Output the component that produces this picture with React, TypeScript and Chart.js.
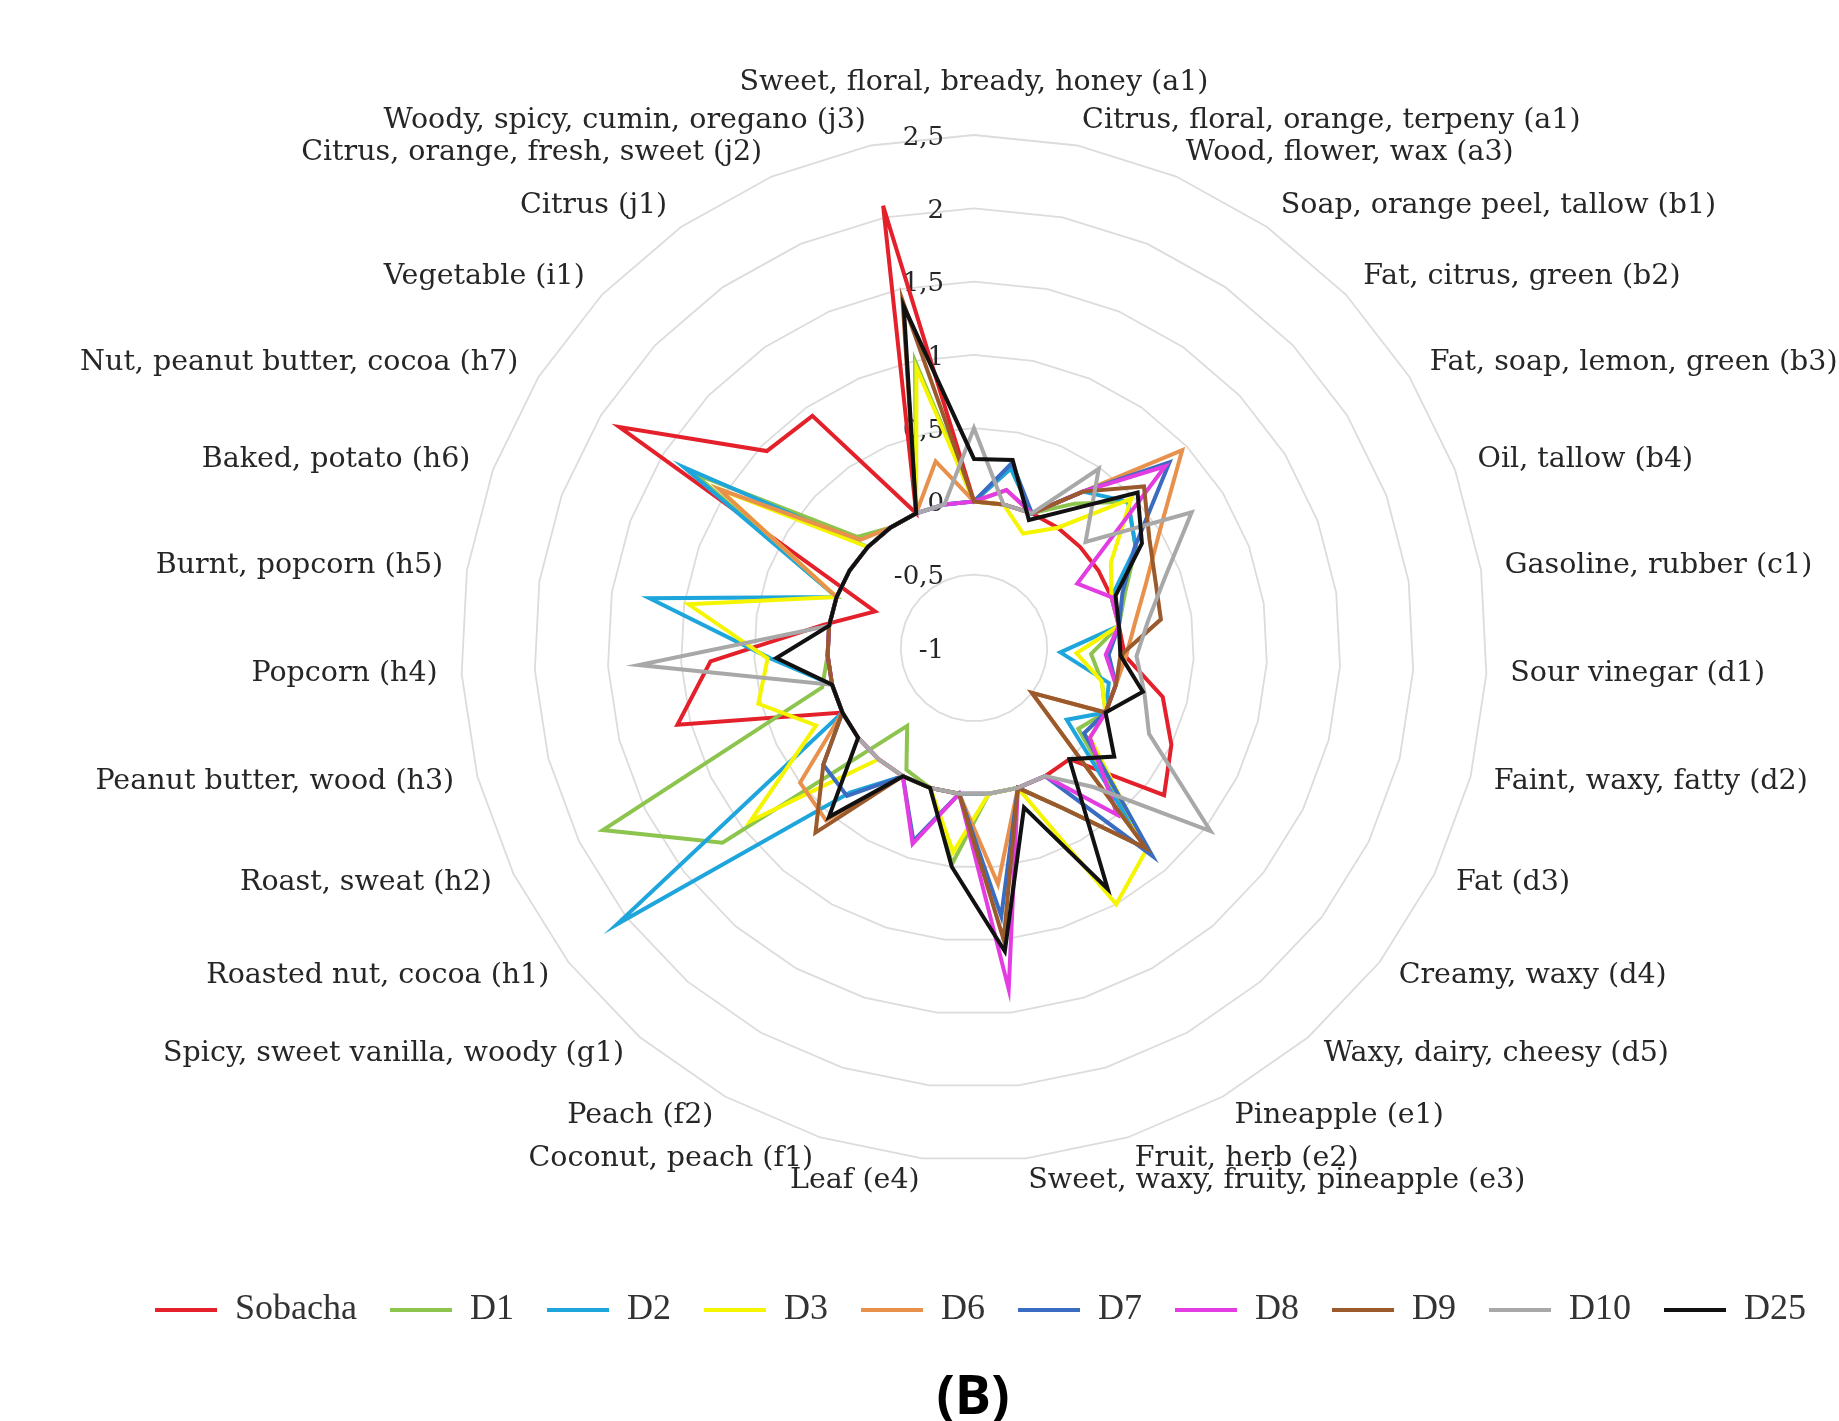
import React, { useEffect, useRef } from "react";
import { Chart, registerables } from "chart.js";

Chart.register(...registerables);

const categories = [
  "Sweet, floral, bready, honey (a1)",
  "Citrus, floral, orange, terpeny (a1)",
  "Wood, flower, wax (a3)",
  "Soap, orange peel, tallow (b1)",
  "Fat, citrus, green (b2)",
  "Fat, soap, lemon, green (b3)",
  "Oil, tallow (b4)",
  "Gasoline, rubber (c1)",
  "Sour vinegar (d1)",
  "Faint, waxy, fatty (d2)",
  "Fat (d3)",
  "Creamy, waxy (d4)",
  "Waxy, dairy, cheesy (d5)",
  "Pineapple (e1)",
  "Fruit, herb (e2)",
  "Sweet, waxy, fruity, pineapple (e3)",
  "Leaf (e4)",
  "Coconut, peach (f1)",
  "Peach (f2)",
  "Spicy, sweet vanilla, woody (g1)",
  "Roasted nut, cocoa (h1)",
  "Roast, sweat (h2)",
  "Peanut butter, wood (h3)",
  "Popcorn (h4)",
  "Burnt, popcorn (h5)",
  "Baked, potato (h6)",
  "Nut, peanut butter, cocoa (h7)",
  "Vegetable (i1)",
  "Citrus (j1)",
  "Citrus, orange, fresh, sweet (j2)",
  "Woody, spicy, cumin, oregano (j3)",
];

const seriesNames = ["Sobacha", "D1", "D2", "D3", "D6", "D7", "D8", "D9", "D10", "D25"];

const sobacha = [0, 0, 0, 0, 0, 0, 0, 0, 0.03, 0.33, 0.5, 0.64, 0, 0, 0, 0, 0, 0, 0, 0, 0, 0, 1.09, 0.8, 0.04, -0.28, 1.85, 0.95, 0.93, 0, 2.08];
const d1 = [0, 0.25, 0, 0.2, 0.45, 0.3, 0.1, 0, -0.2, -0.1, 0, -0.1, 0.8, 0.25, 0, 0, 0.48, 0, -0.05, -0.3, 1.17, 1.82, 0.07, 0, 0, 0, 1.25, 0.1, 0, 0, 1.0];
const d2 = [0, 0.25, 0, 0.3, 0.45, 0.3, 0, 0, -0.41, -0.05, 0, -0.2, 0.8, 0.25, 0, 0, 0, 0, 0, 0.3, 2.08, 0, 0, 0.39, 1.24, 0, 1.33, 0, 0, 0, 0];
const d3 = [0, 0, -0.15, 0, 0.48, 0.1, 0, 0, -0.3, -0.1, 0, 0, 0.81, 1.0, 0, 0, 0.4, 0, 0, 0, 0.93, 0.2, 0.52, 0.41, 0.97, 0, 1.05, 0, 0, 0, 0.95];
const d6 = [0, 0.1, 0, 0.3, 0.96, 0.49, 0.25, 0.11, 0.04, 0, 0, -0.5, 0.8, 0.25, 0, 0.62, 0, 0, 0, 0.55, 0.5, 0, 0, 0, 0, 0, 1.05, 0.07, 0, 0, 0.3];
const d7 = [0, 0.29, 0, 0.3, 0.84, 0.29, 0.08, 0, -0.08, 0, 0, -0.05, 0.87, 0, 0, 0.84, 0, 0.38, 0, 0.33, 0.3, 0, 0, 0, 0, 0, 0, 0, 0, 0, 0];
const d8 = [0, 0.1, 0, 0.3, 0.8, -0.17, 0, 0, -0.1, 0, 0, 0, 0.5, 0, 0, 1.34, 0, 0.4, 0, 0, 0, 0, 0, 0, 0, 0, 0, 0, 0, 0, 0];
const d9 = [0, 0, 0, 0.3, 0.6, 0.41, 0.32, 0.29, 0, 0, 0, -0.5, 0.8, 0.25, 0, 1.0, 0, 0, 0, 0.66, 0.3, 0, 0, 0, 0, 0, 0, 0, 0, 0, 1.42];
const d10 = [0.5, 0, 0, 0.49, 0.05, 0.75, 0.39, 0.2, 0.11, 0.2, 0.33, 1.04, 0.25, 0, 0, 0, 0, 0, 0, 0, 0, 0, 0, 1.29, 0, 0, 0, 0, 0, 0, 0];
const d25 = [0.29, 0.31, -0.05, 0.15, 0.54, 0.35, 0.03, 0, 0, 0.19, 0, 0.21, 0, 0.88, 0.14, 1.08, 0.5, 0, 0, 0.52, 0, 0, 0, 0.35, 0, 0, 0, 0, 0, 0, 1.38];

const seriesValues = [sobacha, d1, d2, d3, d6, d7, d8, d9, d10, d25];
const seriesColors = ["#e4202a", "#8dc44e", "#1ea6dc", "#f5f500", "#e8914c", "#3a6cc2", "#e23ce2", "#9a5a2c", "#a8a8a8", "#111111"];

const tickValues = [-1, -0.5, 0, 0.5, 1, 1.5, 2, 2.5];
const tickLabels = ["-1", "-0,5", "0", "0,5", "1", "1,5", "2", "2,5"];
const panelLabel = "(B)";

const CX = 974;
const CY = 648;
const RADIUS = 513;

export default function App() {
  const ref = useRef<HTMLCanvasElement>(null);

  useEffect(() => {
    document.body.style.margin = "0";
    const canvas = ref.current;
    if (!canvas) return;

    const textPlugin = {
      id: "radarTexts",
      beforeDatasetsDraw(chart: any) {
        const scale = chart.scales.r;
        const c = chart.ctx;
        c.save();
        c.fillStyle = "#262626";
        c.font = "26px 'DejaVu Serif'";
        c.textAlign = "right";
        c.textBaseline = "middle";
        tickValues.forEach((v, i) => {
          const d = scale.getDistanceFromCenterForValue(v);
          c.fillText(tickLabels[i], scale.xCenter - 30, scale.yCenter - d + 3);
        });
        c.font = "28.5px 'DejaVu Serif'";
        const n = categories.length;
        categories.forEach((lab, i) => {
          const p = scale.getPointPosition(i, scale.drawingArea + 24);
          const ang = (i / n) * Math.PI * 2;
          const s = Math.sin(ang);
          const co = Math.cos(ang);
          c.textAlign = Math.abs(s) < 0.01 ? "center" : s > 0 ? "left" : "right";
          let y = p.y - 1.5;
          if (Math.abs(s) < 0.01 && co > 0) y -= 27;
          c.fillText(lab, p.x, y);
        });
        c.restore();
      },
      afterDraw(chart: any) {
        const c = chart.ctx;
        c.save();
        c.fillStyle = "#000";
        c.font = "bold 54px 'Open Sans'";
        c.textAlign = "center";
        c.textBaseline = "alphabetic";
        c.fillText(panelLabel, 973, 1414);
        c.restore();
      },
    };

    const chart = new Chart(canvas, {
      type: "radar",
      data: {
        labels: categories,
        datasets: seriesNames.map((name, i) => ({
          label: name,
          data: seriesValues[i],
          borderColor: seriesColors[i],
          backgroundColor: seriesColors[i],
          borderWidth: 4,
          fill: false,
          pointRadius: 0,
          pointHoverRadius: 0,
          tension: 0,
          order: seriesNames.length - i,
        })),
      },
      options: {
        responsive: false,
        animation: false,
        layout: { padding: { left: 0, right: 0, bottom: 83 } },
        plugins: {
          legend: {
            position: "bottom",
            align: "end",
            labels: {
              font: { family: "'Liberation Serif'", size: 36 },
              color: "#333",
              boxWidth: 62,
              boxHeight: 4,
              padding: 33,
              sort: (a: any, b: any) => a.datasetIndex - b.datasetIndex,
              generateLabels: (ch: any) =>
                Chart.defaults.plugins.legend.labels.generateLabels(ch).map((l: any) => ({
                  ...l,
                  lineWidth: 0,
                  fillStyle: seriesColors[l.datasetIndex],
                })),
            },
          },
          tooltip: { enabled: false },
          title: { display: false },
        },
        scales: {
          r: {
            min: -1,
            max: 2.5,
            ticks: { display: false, stepSize: 0.5 },
            pointLabels: { display: false },
            angleLines: { display: false },
            grid: { circular: false, color: "#dcdcdc", lineWidth: 1.8 },
            afterFit: (scale: any) => {
              scale.xCenter = CX;
              scale.yCenter = CY;
              scale.drawingArea = RADIUS;
            },
          },
        },
      },
      plugins: [textPlugin],
    });

    return () => chart.destroy();
  }, []);

  return (
    <canvas
      ref={ref}
      width={1839}
      height={1421}
      style={{ display: "block", width: "1839px", height: "1421px" }}
    />
  );
}
